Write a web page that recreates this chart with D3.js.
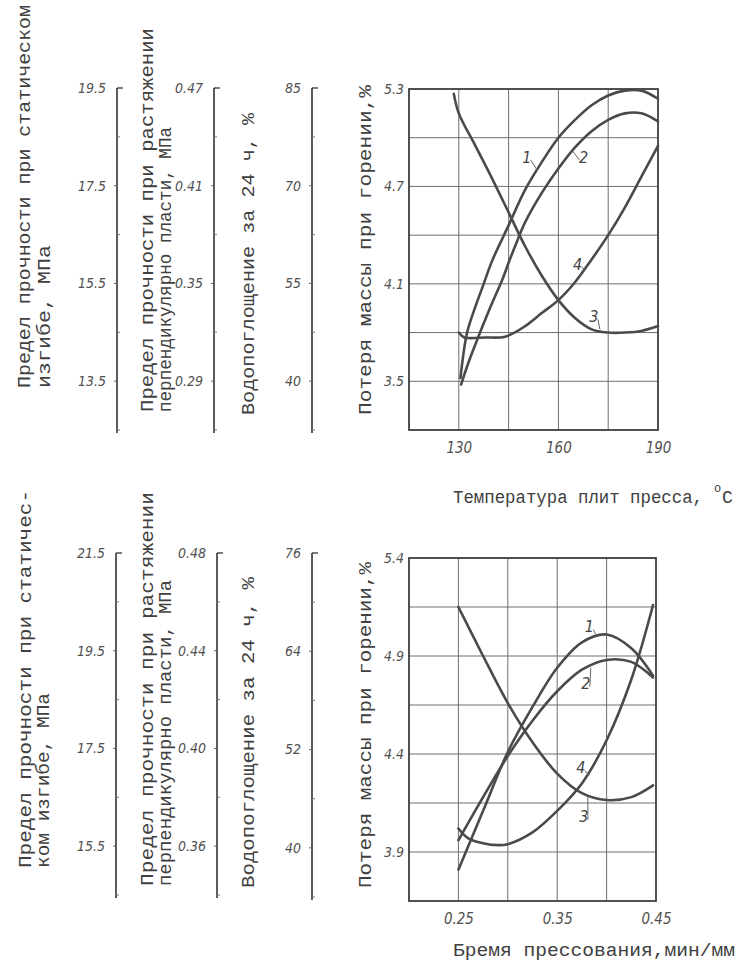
<!DOCTYPE html>
<html>
<head>
<meta charset="utf-8">
<script src="https://cdn.jsdelivr.net/npm/d3@7/dist/d3.min.js"></script>
<style>
  html, body { margin: 0; padding: 0; background: #ffffff; }
  svg { display: block; }
  .ttl { font-family: 'Liberation Mono', 'DejaVu Sans Mono', monospace; font-size: 18px; fill: #404040; }
  .tk { font-family: 'DejaVu Sans Condensed', 'Liberation Sans Narrow', sans-serif; font-style: italic; font-size: 14px; fill: #505050; }
  .lbl { font-family: 'DejaVu Sans Condensed', 'Liberation Sans Narrow', sans-serif; font-style: italic; font-size: 16px; fill: #454545; }
</style>
</head>
<body>
<svg id="chart" width="745" height="967"></svg>
<script>
// ---------------- DATA ----------------
// Top panel: x = press plate temperature, °C
const topXTicks = [130, 160, 190];
const topYTicks = [5.3, 4.7, 4.1, 3.5];
const topAxis1Ticks = [19.5, 17.5, 15.5, 13.5];
const topAxis2Ticks = [0.47, 0.41, 0.35, 0.29];
const topAxis3Ticks = [85, 70, 55, 40];

const topCurve1 = [[130.5,3.52],[132.5,3.80],[135,3.96],[137.5,4.10],[140,4.24],[145,4.46],[150,4.68],[155,4.85],[160,5.0],[165,5.11],[170,5.20],[175,5.26],[180,5.29],[185,5.29],[190,5.24]];
const topCurve2 = [[130.7,3.48],[133,3.62],[136.4,3.80],[140,3.98],[143,4.12],[145,4.23],[147.5,4.36],[150,4.48],[155,4.66],[160,4.81],[165,4.94],[170,5.04],[175,5.11],[180,5.15],[185,5.15],[190,5.10]];
const topCurve3 = [[128.5,5.27],[130,5.15],[135,4.95],[140,4.75],[145,4.54],[150,4.33],[155,4.15],[160,4.0],[165,3.89],[170,3.82],[175,3.80],[180,3.80],[185,3.81],[190,3.84]];
const topCurve4 = [[130,3.80],[131.7,3.77],[138,3.77],[144,3.775],[150,3.84],[155,3.92],[160,4.00],[165,4.11],[170,4.25],[175,4.40],[180,4.57],[185,4.76],[190,4.95]];
const topLabels = [["1",150.5,4.88,153.6,4.80],["2",167.6,4.88,164.2,4.92],["3",170.7,3.90,172.5,3.82],["4",165.8,4.22,168.0,4.19]];

// Bottom panel: x = pressing time, min/mm
const botXTicks = [0.25, 0.35, 0.45];
const botYTicks = [5.4, 4.9, 4.4, 3.9];
const botAxis1Ticks = [21.5, 19.5, 17.5, 15.5];
const botAxis2Ticks = [0.48, 0.44, 0.40, 0.36];
const botAxis3Ticks = [76, 64, 52, 40];

const botCurve1 = [[0.25,3.81],[0.275,4.11],[0.30,4.41],[0.325,4.64],[0.35,4.84],[0.375,4.97],[0.40,5.01],[0.425,4.94],[0.447,4.80]];
const botCurve2 = [[0.25,3.96],[0.275,4.18],[0.30,4.39],[0.325,4.57],[0.35,4.72],[0.375,4.83],[0.40,4.88],[0.425,4.87],[0.447,4.79]];
const botCurve3 = [[0.25,5.15],[0.275,4.90],[0.30,4.66],[0.325,4.46],[0.35,4.30],[0.375,4.20],[0.40,4.165],[0.425,4.18],[0.447,4.24]];
const botCurve4 = [[0.25,4.02],[0.26,3.97],[0.275,3.945],[0.29,3.935],[0.30,3.94],[0.325,4.00],[0.35,4.11],[0.375,4.25],[0.40,4.47],[0.425,4.78],[0.447,5.16]];
const botLabels = [["1",0.3825,5.05,0.389,5.01],["2",0.379,4.76,0.384,4.84],["3",0.377,4.08,0.381,4.18],["4",0.374,4.33,0.382,4.29]];

// ---------------- DRAW ----------------
const svg = d3.select("#chart");
const INK = "#4a4a4a";

function vtitle(x, y0, len, str) {
  svg.append("text").attr("class", "ttl")
    .attr("transform", `translate(${x},${y0}) rotate(-90)`)
    .attr("dy", "0.35em")
    .attr("textLength", len).attr("lengthAdjust", "spacingAndGlyphs")
    .text(str);
}

function leftAxis(x, y0, y1, domTop, domBot, ticks, fmt) {
  const s = d3.scaleLinear().domain([domTop, domBot]).range([y0, y1]);
  const g = svg.append("g");
  g.append("line").attr("x1", x).attr("x2", x).attr("y1", y0).attr("y2", y1 + 3)
    .attr("stroke", "#333").attr("stroke-width", 1.6);
  g.append("line").attr("x1", x).attr("x2", x + 6).attr("y1", y0).attr("y2", y0)
    .attr("stroke", "#333").attr("stroke-width", 1.3);
  const step = (ticks[0] - ticks[1]) / 2;
  ticks.forEach((v, i) => {
    if (i > 0) g.append("line").attr("x1", x - 3).attr("x2", x).attr("y1", s(v)).attr("y2", s(v))
      .attr("stroke", "#666").attr("stroke-width", 1);
    const m = v - step;
    g.append("line").attr("x1", x).attr("x2", x + 3).attr("y1", s(m)).attr("y2", s(m))
      .attr("stroke", "#777").attr("stroke-width", 1);
    g.append("text").attr("class", "tk").attr("x", x - 11).attr("y", s(v)).attr("dy", "0.35em")
      .attr("text-anchor", "end").text(fmt(v));
  });
}

function panel(cfg) {
  const x = d3.scaleLinear().domain(cfg.xDom).range([409, cfg.xRight]);
  const y = d3.scaleLinear().domain(cfg.yDom).range([cfg.yBot, cfg.yTop]);
  const g = svg.append("g");
  const xs = d3.range(0, 6).map(i => cfg.xDom[0] + i * (cfg.xDom[1] - cfg.xDom[0]) / 5);
  const ys = d3.range(0, 8).map(i => cfg.yDom[0] + i * (cfg.yDom[1] - cfg.yDom[0]) / 7);
  g.selectAll(".gx").data(xs.slice(1, 5)).join("line")
    .attr("x1", d => x(d)).attr("x2", d => x(d)).attr("y1", cfg.yTop).attr("y2", cfg.yBot)
    .attr("stroke", "#6e6e6e").attr("stroke-width", 1);
  g.selectAll(".gy").data(ys.slice(1, 7)).join("line")
    .attr("x1", 409).attr("x2", cfg.xRight).attr("y1", d => y(d)).attr("y2", d => y(d))
    .attr("stroke", "#6e6e6e").attr("stroke-width", 1);
  g.append("rect").attr("x", 409).attr("y", cfg.yTop).attr("width", cfg.xRight - 409)
    .attr("height", cfg.yBot - cfg.yTop).attr("fill", "none").attr("stroke", "#3e3e3e").attr("stroke-width", 1.8);
  const ya = d3.axisLeft(y).tickValues(cfg.yTicks).tickSize(0).tickPadding(5).tickFormat(d3.format(".1f"));
  const yg = g.append("g").attr("transform", "translate(409,0)").call(ya);
  yg.select(".domain").remove();
  yg.selectAll("text").attr("class", "tk").attr("font-size", null).attr("font-family", null);
  const xa = d3.axisBottom(x).tickValues(cfg.xTicks).tickSize(0).tickPadding(12).tickFormat(cfg.xFmt);
  const xg = g.append("g").attr("transform", `translate(0,${cfg.yBot})`).call(xa);
  xg.select(".domain").remove();
  xg.selectAll("text").attr("class", "tk").attr("font-size", null).attr("font-family", null).style("font-size", "15px");
  const line = d3.line().x(d => x(d[0])).y(d => y(d[1])).curve(d3.curveCatmullRom.alpha(0.5));
  cfg.curves.forEach(c => {
    g.append("path").attr("d", line(c)).attr("fill", "none")
      .attr("stroke", INK).attr("stroke-width", 2.6).attr("stroke-linecap", "round");
  });
  cfg.labels.forEach(l => {
    g.append("text").attr("class", "lbl").attr("x", x(l[1])).attr("y", y(l[2]))
      .attr("dy", "0.35em").attr("text-anchor", "middle").text(l[0]);
    g.append("line").attr("x1", x(l[1]) + (l[3] > l[1] ? 4 : -4)).attr("y1", y(l[2]) + 3)
      .attr("x2", x(l[3])).attr("y2", y(l[4])).attr("stroke", "#666").attr("stroke-width", 1);
  });
}

// ---- Top panel ----
vtitle(24, 388, 383, "Предел прочности при статическом");
vtitle(44, 388, 143, "изгибе, МПа");
vtitle(147, 412, 384, "Предел прочности при растяжении");
vtitle(165, 412, 285, "перпендикулярно пласти, МПа");
vtitle(248, 415, 302, "Водопоглощение за 24 ч, %");
vtitle(365, 415, 330, "Потеря массы при горении,%");

leftAxis(117, 88, 430, 19.5, 12.5, topAxis1Ticks, d3.format(".1f"));
leftAxis(214, 88, 430, 0.47, 0.26, topAxis2Ticks, d3.format(".2f"));
leftAxis(312, 88, 430, 85, 32.5, topAxis3Ticks, d3.format("d"));

panel({
  xDom: [115, 190], xRight: 658, yDom: [3.2, 5.3], yTop: 89, yBot: 430,
  yTicks: topYTicks, xTicks: topXTicks, xFmt: d3.format("d"),
  curves: [topCurve1, topCurve2, topCurve3, topCurve4], labels: topLabels
});

svg.append("text").attr("class", "ttl").attr("x", 453).attr("y", 503)
  .attr("textLength", 250).attr("lengthAdjust", "spacingAndGlyphs").text("Температура плит пресса,");
svg.append("text").attr("class", "ttl").attr("x", 714).attr("y", 492).style("font-size", "12px").text("o");
svg.append("text").attr("class", "ttl").attr("x", 722).attr("y", 503).text("C");

// ---- Bottom panel ----
vtitle(25, 868, 378, "Предел прочности при статичес-");
vtitle(43, 868, 175, "ком изгибе, МПа");
vtitle(147, 886, 394, "Предел прочности при растяжении");
vtitle(165, 886, 306, "перпендикулярно пласти, МПа");
vtitle(248, 888, 311, "Водопоглощение за 24 ч, %");
vtitle(365, 888, 326, "Потеря массы при горении,%");

leftAxis(116, 553, 895, 21.5, 14.5, botAxis1Ticks, d3.format(".1f"));
leftAxis(217, 553, 895, 0.48, 0.34, botAxis2Ticks, d3.format(".2f"));
leftAxis(312, 553, 897, 76, 34, botAxis3Ticks, d3.format("d"));

panel({
  xDom: [0.20, 0.45], xRight: 656, yDom: [3.65, 5.4], yTop: 558, yBot: 901,
  yTicks: botYTicks, xTicks: botXTicks, xFmt: d3.format(".2f"),
  curves: [botCurve1, botCurve2, botCurve3, botCurve4], labels: botLabels
});

svg.append("text").attr("class", "ttl").attr("x", 453).attr("y", 956)
  .attr("textLength", 282).attr("lengthAdjust", "spacingAndGlyphs").text("Бремя прессования,мин/мм");
</script>
</body>
</html>
